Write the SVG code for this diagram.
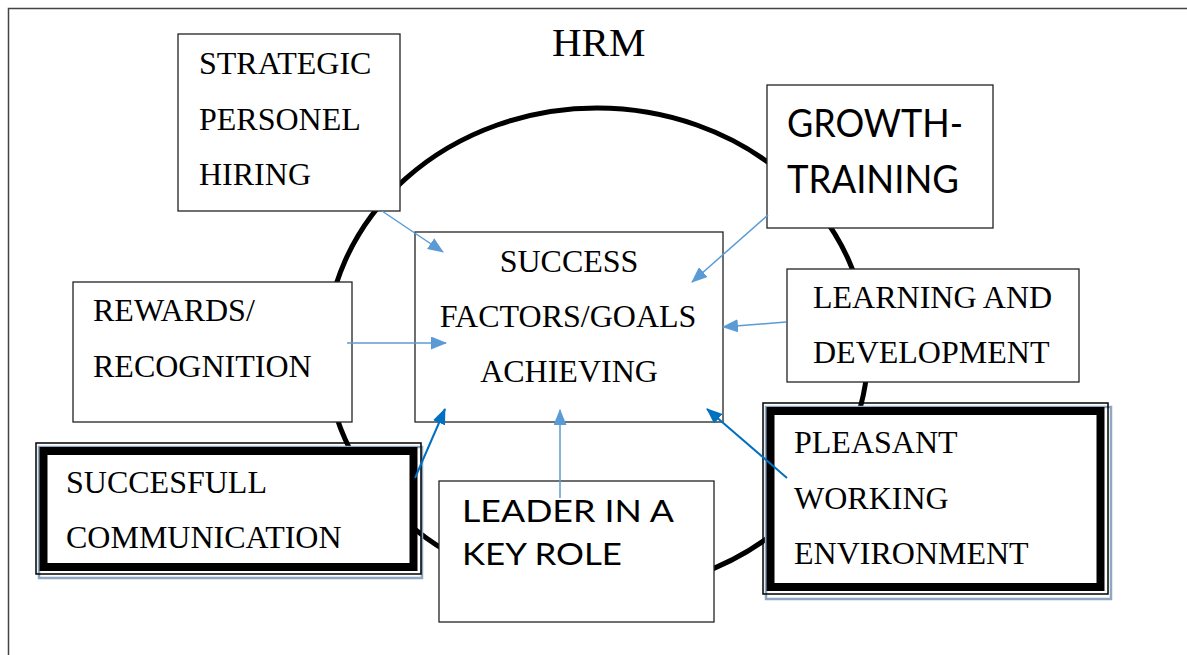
<svg xmlns="http://www.w3.org/2000/svg" width="1187" height="655" viewBox="0 0 1187 655">
<defs>
<marker id="ahL" markerWidth="16" markerHeight="13" refX="15" refY="6.5" orient="auto" markerUnits="userSpaceOnUse"><path d="M0,0 L16,6.5 L0,13 Z" fill="#5b9bd5"/></marker>
<marker id="ahD" markerWidth="16" markerHeight="13" refX="15" refY="6.5" orient="auto" markerUnits="userSpaceOnUse"><path d="M0,0 L16,6.5 L0,13 Z" fill="#0070c0"/></marker>
</defs>
<style>
.box{fill:#fff;stroke:#222;stroke-width:1.3}
.t{font-family:"Liberation Serif","Times New Roman",serif;font-size:32px;fill:#000}
.s{font-family:Lato,"Liberation Sans",sans-serif;fill:#000}
.thin{fill:none;stroke:#000;stroke-width:1.5}
.thick{fill:#fff;stroke:#000;stroke-width:8}
.shadow{fill:none;stroke:#8fa7c1;stroke-width:2.5}
.cl{stroke:#5b9bd5;stroke-width:1.5;fill:none;marker-end:url(#ahL)}
.cd{stroke:#0070c0;stroke-width:2;fill:none;marker-end:url(#ahD)}
</style>
<rect width="1187" height="655" fill="#fff"/>
<path d="M8.5,655 V8.5 H1187" fill="none" stroke="#444" stroke-width="1.5"/>
<ellipse cx="597" cy="350" rx="271" ry="242" fill="none" stroke="#000" stroke-width="5"/>
<text x="552" y="56" font-family="Liberation Serif,'Times New Roman',serif" font-size="41">HRM</text>

<g id="strategic">
<rect class="box" x="178" y="34" width="222" height="177"/>
<text class="t" x="199" y="74">STRATEGIC</text>
<text class="t" x="199" y="130">PERSONEL</text>
<text class="t" x="199" y="185">HIRING</text>
</g>
<g id="growth">
<rect class="box" x="767" y="85" width="226" height="143"/>
<text class="s" x="787" y="137" font-size="39" textLength="176" lengthAdjust="spacingAndGlyphs">GROWTH-</text>
<text class="s" x="787" y="193" font-size="39" textLength="172" lengthAdjust="spacingAndGlyphs">TRAINING</text>
</g>
<g id="success">
<rect class="box" x="415" y="232" width="308" height="190"/>
<text class="t" x="569" y="272" text-anchor="middle">SUCCESS</text>
<text class="t" x="568" y="327" text-anchor="middle">FACTORS/GOALS</text>
<text class="t" x="569" y="382" text-anchor="middle">ACHIEVING</text>
</g>
<g id="learning">
<rect class="box" x="787" y="269" width="292" height="113"/>
<text class="t" x="813" y="308">LEARNING AND</text>
<text class="t" x="813" y="363">DEVELOPMENT</text>
</g>
<g id="rewards">
<rect class="box" x="73" y="282" width="279" height="140"/>
<text class="t" x="93" y="321">REWARDS/</text>
<text class="t" x="93" y="377">RECOGNITION</text>
</g>
<g id="communication">
<rect class="shadow" x="39" y="447" width="383" height="131"/>
<rect class="thin" x="36" y="443" width="385" height="131"/>
<rect class="thick" x="43.5" y="451" width="370" height="116"/>
<text class="t" x="66" y="493">SUCCESFULL</text>
<text class="t" x="66" y="548">COMMUNICATION</text>
</g>
<g id="pleasant">
<rect class="shadow" x="766" y="407" width="345" height="192"/>
<rect class="thin" x="763" y="403" width="345" height="191"/>
<rect class="thick" x="770.5" y="411" width="330" height="176"/>
<text class="t" x="794" y="453">PLEASANT</text>
<text class="t" x="794" y="509">WORKING</text>
<text class="t" x="794" y="564">ENVIRONMENT</text>
</g>
<g id="leader">
<rect class="box" x="439" y="481" width="275" height="141"/>
<text class="s" x="462" y="522" font-size="31" textLength="212" lengthAdjust="spacingAndGlyphs">LEADER IN A</text>
<text class="s" x="462" y="565" font-size="31" textLength="160" lengthAdjust="spacingAndGlyphs">KEY ROLE</text>
</g>

<g id="connectors">
<line class="cl" x1="382" y1="211" x2="443" y2="252"/>
<line class="cl" x1="768" y1="215" x2="692" y2="282"/>
<line class="cl" x1="786" y1="322" x2="723" y2="327"/>
<line class="cl" x1="347" y1="343" x2="446" y2="343"/>
<line class="cd" x1="415" y1="478" x2="445" y2="409"/>
<line class="cl" x1="560" y1="498" x2="560" y2="410"/>
<line class="cd" x1="787" y1="478" x2="707" y2="409"/>
</g>
</svg>
